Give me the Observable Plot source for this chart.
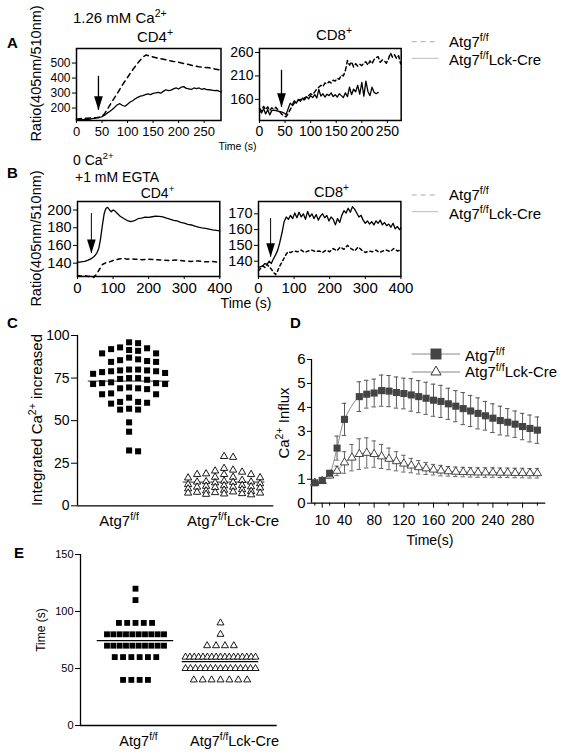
<!DOCTYPE html>
<html><head><meta charset="utf-8">
<script src="https://cdn.jsdelivr.net/npm/d3@7"></script>
<script src="https://cdn.jsdelivr.net/npm/@observablehq/plot@0.6"></script>
<style>
body{margin:0;background:#fff;}
#fig{position:relative;width:567px;height:755px;overflow:hidden;background:#fff;}
</style></head><body><div id="fig"></div>
<script>
// ---------------- DATA ----------------
// Panel A, CD4 (1.26 mM Ca2+)
const aCd4TimeFF = [0,10,20,30,40,45,50,55,60,70,80,90,100,110,120,130,136,140,150,160,170,180,190,200,210,220,230,240,250,260,270,280,284];
const aCd4RatioFF = [126,130,132,134,137,139,146,162,190,245,298,355,405,455,500,540,553,550,541,532,525,518,511,505,497,490,481,475,471,468,461,454,447];
const aCd4TimeCre = [0,5,10,15,20,25,30,35,40,45,50,55,60,65,70,75,80,85,90,95,100,105,110,115,120,125,130,135,140,145,150,155,160,165,170,175,180,185,190,195,200,205,210,215,220,225,230,235,240,245,250,255,260,265,270,275,280,284];
const aCd4RatioCre = [122,125,121,124,127,125,129,131,134,137,143,152,166,177,191,206,222,229,217,212,226,240,249,262,271,279,283,289,294,290,298,301,305,299,311,322,316,320,328,334,327,339,343,331,328,324,334,330,334,325,329,323,322,319,316,318,311,308];
const aCd4Arrow = {t: 43, top: 412, tip: 185};
// Panel A, CD8
const aCd8TimeFF = [0,4,8,12,16,20,24,28,32,36,40,44,48,52,56,60,64,68,72,76,80,84,88,92,96,100,104,108,112,116,120,124,128,132,136,140,144,148,152,156,160,164,168,172,176,180,184,188,192,196,200,204,208,212,216,220,224,228,232,236,240,244,248,252,256,260,264,268,272,276];
const aCd8RatioFF = [141,135,145,138,144,136,142,139,143,137,133,128,125,123,130,138,146,152,155,158,160,157,163,165,168,172,170,176,182,186,190,187,195,193,198,195,201,199,205,203,212,210,222,243,233,240,229,236,231,235,232,238,240,233,242,236,245,249,251,239,244,242,237,246,259,250,255,247,253,236];
const aCd8TimeCre = [0,4,8,12,16,20,24,28,32,36,40,44,48,52,56,60,64,68,72,76,80,84,88,92,96,100,104,108,112,116,120,124,128,132,136,140,144,148,152,156,160,164,168,172,176,180,184,188,192,196,200,204,208,212,216,220,224,228,232];
const aCd8RatioCre = [137,131,140,129,138,127,136,137,136,135,134,133,131,128,140,152,148,157,152,160,156,163,159,166,161,168,164,170,163,181,167,172,165,171,168,174,166,170,165,172,168,164,174,166,186,170,182,176,190,171,196,167,199,177,168,186,175,172,175];
const aCd8Arrow = {t: 43, top: 222, tip: 143};
// Panel B, CD4 (0 Ca2+ +1 mM EGTA)
const bCd4TimeFF = [0,10,20,30,40,45,50,55,60,65,70,80,90,100,110,120,130,140,150,160,180,200,220,240,260,280,300,320,340,360,380,400];
const bCd4RatioFF = [126,125.5,126,125,125.5,124,126,128.5,132,135,138.5,140.5,141.5,143,144,145,145.5,144.5,145,144.5,144,144.5,144,143.5,143,143.5,142.5,142,142.5,141.5,142,141];
const bCd4TimeCre = [0,10,20,30,40,45,50,55,60,65,70,75,80,85,90,95,100,105,110,115,120,130,140,150,160,170,180,190,200,210,220,230,240,250,260,270,280,290,300,310,320,330,340,350,360,370,380,390,400];
const bCd4RatioCre = [141,141.5,142,143.5,145.5,147,149,152,157,168,183,196,202,203,200,198,200,199,197,195,193,190.4,188.1,186.8,187.9,190.2,190.8,191.9,191.6,192.4,193.1,192.8,192.3,190.9,189.6,188.4,187.7,186.1,185.2,183.8,183.1,181.9,180.8,179.9,179.2,178.4,177.6,177.1,176.5];
const bCd4Arrow = {t: 39, top: 196, tip: 151};
// Panel B, CD8
const bCd8TimeFF = [0,6,12,18,24,30,36,42,48,54,60,66,72,78,84,90,100,110,120,130,140,150,160,170,180,190,200,210,220,230,240,250,260,270,280,290,300,310,320,330,340,350,360,370,380,390,400];
const bCd8RatioFF = [134,135.5,137,136,138,136.5,135,133,131.5,134,137,139.5,142,144.5,146,145.5,146.5,146,147,145.5,146.5,147,146,146.5,145.5,147,146,148,146.5,149,147.5,150,148,146.5,149,147,145.5,146.5,146,147,145.5,146.5,147,146,148,146.5,147];
const bCd8TimeCre = [0,6,12,18,24,30,36,42,48,54,60,66,72,78,84,90,96,102,108,114,120,126,132,138,144,150,156,162,168,174,180,186,192,198,204,210,216,222,228,234,240,246,252,258,264,270,276,282,288,294,300,306,312,318,324,330,336,342,348,354,360,366,372,378,384,390,396,400];
const bCd8RatioCre = [136,136.5,137,138.5,138,140,138.5,141.5,144,147,152,158,165,168,166.5,169,167,170.5,167.5,171,168,170,166.5,171.5,168,170,167,169.5,166,168.5,170,167.5,169,165.5,168,166.5,163,167,164.5,169,172,170.5,173.5,171,174.5,173,170.5,168,169,166,164,165.5,163.5,165,163,165.5,164,166,163,164.5,162.5,163.5,161.5,164,160.5,162,160,161];
const bCd8Arrow = {t: 34, top: 167, tip: 142.5};

// Panel C: integrated Ca2+ increase per cell
const cGroups = ["ff", "cre"];
const cValuesFF = [96,95.5,93,92.5,92,91.5,91,89.5,89.5,87,86,85.5,85,84.5,84.5,80,80,79.5,79.5,79,79,78.5,78,77.5,75,75,74.5,74,72.5,72,72,71.5,71.5,69.5,69,69,68.5,66,65.5,65.5,63.5,61,61,60.5,60,57,56.5,56.5,49,43.5,32.5,32];
const cValuesCre = [29,28.5,22,21,20.5,19.8,18.8,18.4,18.4,18.4,16.8,16.8,16.5,16.4,15,14.5,14.2,14,14,13.8,13.5,13,12.5,12,11.8,11.5,11.2,11,11,10.8,10.5,10,9.5,9.2,8.8,8.5,8.2,8,7.8,7.5,7.5,7.2,7,6.8,6.5];
const cMeans = [73.2, 13.9];
const cTicks = [0, 25, 50, 75, 100];

// Panel D: Ca2+ influx over time (mean ± SEM)
const dTimeFF = [0,10,20,30,40,60,70,80,90,100,110,120,130,140,150,160,170,180,190,200,210,220,230,240,250,260,270,280,290,300];
const dMeanFF = [0.85,0.95,1.25,2.3,3.5,4.45,4.55,4.6,4.7,4.68,4.62,4.58,4.52,4.45,4.38,4.3,4.25,4.15,4.05,3.95,3.85,3.75,3.65,3.55,3.45,3.38,3.3,3.2,3.12,3.05];
const dSemFF = [0.06,0.06,0.1,0.5,0.67,0.62,0.58,0.58,0.65,0.65,0.65,0.64,0.68,0.67,0.67,0.67,0.67,0.65,0.65,0.67,0.65,0.65,0.6,0.6,0.6,0.57,0.55,0.55,0.56,0.55];
const dTimeCre = [0,10,20,30,40,50,60,70,80,90,100,110,120,130,140,150,160,170,180,190,200,210,220,230,240,250,260,270,280,290,300];
const dMeanCre = [0.85,0.92,1.15,1.35,1.7,1.9,2.05,2.1,2.05,1.95,1.85,1.75,1.65,1.57,1.5,1.45,1.4,1.36,1.33,1.31,1.3,1.29,1.28,1.28,1.28,1.27,1.27,1.26,1.26,1.25,1.25];
const dSemCre = [0.06,0.06,0.1,0.2,0.45,0.55,0.64,0.63,0.55,0.5,0.45,0.4,0.35,0.3,0.28,0.25,0.22,0.22,0.2,0.2,0.2,0.2,0.2,0.2,0.2,0.2,0.2,0.2,0.2,0.2,0.2];
const dTickLabels = [10,40,80,120,160,200,240,280];
const dMinorTicks = [0,20,60,100,140,180,220,260,300];

// Panel E: time to peak
const eValuesFF = [120,110,90,90,90,90,90,80,80,80,80,80,80,80,80,80,80,70,70,70,70,70,70,70,70,70,70,60,60,60,60,60,60,40,40,40,40];
const eValuesCre = [90,80,70,70,70,70,60,60,60,60,60,60,60,60,60,60,60,60,60,60,60,60,60,50,50,50,50,50,50,50,50,50,50,50,50,50,50,50,40,40,40,40,40,40,40];
const eMeans = [74.5, 56];
const eTicks = [0, 50, 100, 150];

const groupLabels = {ff: "Atg7^{f/f}", cre: "Atg7^{f/f}Lck-Cre"};

// ---------------- HELPERS ----------------
const NS = "http://www.w3.org/2000/svg";
const FONT = '"Liberation Sans", Arial, Helvetica, sans-serif';
const fig = document.getElementById("fig");
const baseStyle = {fontFamily: FONT, background: "none", color: "black", overflow: "visible"};

function place(svg, left, top) {
  svg.style.position = "absolute";
  svg.style.left = left + "px";
  svg.style.top = top + "px";
  svg.style.maxWidth = "none";
  fig.appendChild(svg);
}
function setRich(textEl, str, fs) {
  textEl.textContent = "";
  const re = /\^\{([^}]*)\}/g;
  let last = 0, m; const parts = [];
  while ((m = re.exec(str))) {
    if (m.index > last) parts.push([str.slice(last, m.index), false]);
    parts.push([m[1], true]);
    last = re.lastIndex;
  }
  if (last < str.length) parts.push([str.slice(last), false]);
  let cur = 0;
  for (const [s, sup] of parts) {
    const ts = document.createElementNS(NS, "tspan");
    ts.textContent = s;
    const target = sup ? -0.4 * fs : 0;
    if (target !== cur) { ts.setAttribute("dy", (target - cur).toFixed(2)); cur = target; }
    if (sup) ts.setAttribute("font-size", (0.7 * fs).toFixed(2));
    textEl.appendChild(ts);
  }
}
function richTicks(svg, fs, shifts) {
  svg.querySelectorAll("text").forEach(t => {
    const k = t.textContent;
    if (groupLabels[k]) {
      setRich(t, groupLabels[k], fs);
      if (shifts && shifts[k]) t.setAttribute("dx", shifts[k]);
    }
  });
}
const arrowHead = {
  draw(ctx, size) {
    const r = Math.sqrt(size / Math.PI);
    ctx.moveTo(0, 0);
    ctx.lineTo(-0.62 * r, -2 * r);
    ctx.lineTo(0.62 * r, -2 * r);
    ctx.closePath();
  }
};
const zip = (t, v) => t.map((x, i) => ({t: x, v: v[i]}));

function tracePanel(o) {
  const ml = 40, mr = 10, mt = 10, mb = 28;
  const svg = Plot.plot({
    width: ml + o.frameW + mr, height: mt + o.frameH + mb,
    marginLeft: ml, marginRight: mr, marginTop: mt, marginBottom: mb,
    x: {domain: o.xDomain}, y: {domain: o.yDomain},
    style: baseStyle,
    marks: [
      Plot.axisY({ticks: o.yTicks, tickSize: 4, tickPadding: 2, fontSize: o.yFont, label: null}),
      Plot.axisX({ticks: o.xTicks, tickSize: 3, tickPadding: 3, fontSize: o.xFont, label: null}),
      Plot.line(zip(o.ffT, o.ffV), {x: "t", y: "v", stroke: "black", strokeWidth: 1.5, strokeDasharray: o.dash}),
      Plot.line(zip(o.creT, o.creV), {x: "t", y: "v", stroke: "black", strokeWidth: 1.3}),
      Plot.ruleX([o.arrow], {x: "t", y1: "top", y2: "tip", stroke: "black", strokeWidth: o.arrowW}),
      Plot.dot([o.arrow], {x: "t", y: "tip", symbol: arrowHead, r: o.arrowR, fill: "black", stroke: "none"}),
      Plot.frame({stroke: "black", strokeWidth: 1.5})
    ]
  });
  place(svg, o.left - ml, o.top - mt);
}

// ---------------- PANELS A & B ----------------
tracePanel({left: 76, top: 48, frameW: 144.5, frameH: 72, xDomain: [0, 283], yDomain: [117, 597],
  xTicks: [0,50,100,150,200,250], yTicks: [200,300,400,500], xFont: 13, yFont: 12,
  ffT: aCd4TimeFF, ffV: aCd4RatioFF, creT: aCd4TimeCre, creV: aCd4RatioCre, dash: "5,4",
  arrow: aCd4Arrow, arrowW: 1.3, arrowR: 7});
tracePanel({left: 259, top: 48, frameW: 141.7, frameH: 72, xDomain: [0, 277], yDomain: [115, 268.5],
  xTicks: [0,50,100,150,200,250], yTicks: [160,210,260], xFont: 14, yFont: 14,
  ffT: aCd8TimeFF, ffV: aCd8RatioFF, creT: aCd8TimeCre, creV: aCd8RatioCre, dash: "4,3",
  arrow: aCd8Arrow, arrowW: 1.3, arrowR: 7});
tracePanel({left: 77, top: 201, frameW: 142.3, frameH: 75, xDomain: [0, 400], yDomain: [125, 209.6],
  xTicks: [0,100,200,300,400], yTicks: [140,160,180,200], xFont: 15, yFont: 14.5,
  ffT: bCd4TimeFF, ffV: bCd4RatioFF, creT: bCd4TimeCre, creV: bCd4RatioCre, dash: "4,4",
  arrow: bCd4Arrow, arrowW: 1, arrowR: 7});
tracePanel({left: 258.3, top: 201, frameW: 142.4, frameH: 75, xDomain: [0, 400], yDomain: [130.3, 177.8],
  xTicks: [0,100,200,300,400], yTicks: [140,150,160,170], xFont: 15, yFont: 14.5,
  ffT: bCd8TimeFF, ffV: bCd8RatioFF, creT: bCd8TimeCre, creV: bCd8RatioCre, dash: "3,3",
  arrow: bCd8Arrow, arrowW: 1, arrowR: 7});

// ---------------- PANEL C ----------------
function gridSwarm(values, pxPerUnit, minDist, maxSlot) {
  const order = values.map((v, i) => i).sort((a, b) => values[b] - values[a]);
  const cand = [0]; for (let k = 1; k <= maxSlot; k++) cand.push(k, -k);
  const placed = []; const slots = new Array(values.length);
  for (const i of order) {
    const v = values[i];
    let best = null, bestD = -1;
    for (const k of cand) {
      const ds = placed.filter(p => p.k === k).map(p => Math.abs(p.v - v) * pxPerUnit);
      const d = ds.length ? Math.min(...ds) : Infinity;
      if (d >= minDist) { best = k; break; }
      if (d > bestD) { bestD = d; best = k; }
    }
    placed.push({k: best, v}); slots[i] = best;
  }
  return slots;
}
{
  const ml = 40, mr = 10, mt = 10, mb = 30;
  const W = 196.3, H = 170.3;
  const pxPerUnit = 95;
  const xDomain = [-(128.3 - 76.7) / pxPerUnit, 1 + (273 - 223.3) / pxPerUnit];
  const step = 9 / pxPerUnit;
  const yPx = H / 100;
  const sFF = gridSwarm(cValuesFF, yPx, 7, 4);
  const sCre = gridSwarm(cValuesCre, yPx, 6, 4);
  const ptsFF = cValuesFF.map((v, i) => ({x: 0 + sFF[i] * step, y: v}));
  const ptsCre = cValuesCre.map((v, i) => ({x: 1 + sCre[i] * step, y: v}));
  const means = cMeans.map((m, i) => ({g: i, m}));
  const svg = Plot.plot({
    width: ml + W + mr, height: mt + H + mb, marginLeft: ml, marginRight: mr, marginTop: mt, marginBottom: mb,
    x: {domain: xDomain}, y: {domain: [0, 100]}, style: baseStyle,
    marks: [
      Plot.ruleX([xDomain[0]], {stroke: "black", strokeWidth: 1.3}),
      Plot.ruleY([0], {stroke: "black", strokeWidth: 1.3}),
      Plot.axisY({ticks: cTicks, tickSize: 6, tickPadding: 2, fontSize: 14, label: null}),
      Plot.axisX({ticks: [0, 1], tickFormat: i => cGroups[i], tickSize: 0, tickPadding: 10, fontSize: 15, label: null}),
      Plot.ruleY(means, {y: "m", x1: d => d.g - 0.43, x2: d => d.g + 0.43, stroke: "#555", strokeWidth: 1.3}),
      Plot.dot(ptsFF, {x: "x", y: "y", symbol: "square", r: 3.4, fill: "black", stroke: "none"}),
      Plot.dot(ptsCre, {x: "x", y: "y", symbol: "triangle", r: 2.7, fill: "white", stroke: "black", strokeWidth: 0.9})
    ]
  });
  richTicks(svg, 15, {ff: -10, cre: 9});
  place(svg, 76.7 - ml, 335 - mt);
}

// ---------------- PANEL D ----------------
{
  const ml = 30, mr = 15, mt = 10, mb = 32;
  const W = 234.3, H = 143.7;
  const xDomain = [-4.45, 311.3];
  const ff = dTimeFF.map((t, i) => ({t, m: dMeanFF[i], s: dSemFF[i]}));
  const cre = dTimeCre.map((t, i) => ({t, m: dMeanCre[i], s: dSemCre[i]}));
  const cap = 3;
  const errMarks = (data, color) => [
    Plot.ruleX(data, {x: "t", y1: d => d.m - d.s, y2: d => d.m + d.s, stroke: color, strokeWidth: 1}),
    Plot.ruleY(data, {y: d => d.m + d.s, x1: d => d.t - cap, x2: d => d.t + cap, stroke: color, strokeWidth: 1}),
    Plot.ruleY(data, {y: d => d.m - d.s, x1: d => d.t - cap, x2: d => d.t + cap, stroke: color, strokeWidth: 1})
  ];
  const svg = Plot.plot({
    width: ml + W + mr, height: mt + H + mb, marginLeft: ml, marginRight: mr, marginTop: mt, marginBottom: mb,
    x: {domain: xDomain}, y: {domain: [0, 6]}, style: baseStyle,
    marks: [
      Plot.ruleX([xDomain[0]], {stroke: "black", strokeWidth: 1.3}),
      Plot.ruleY([0], {stroke: "black", strokeWidth: 1.3}),
      Plot.axisY({ticks: [0,1,2,3,4,5,6], tickFormat: d3.format("d"), tickSize: 4, tickPadding: 2, fontSize: 15, label: null}),
      Plot.axisX({ticks: dTickLabels, tickFormat: d3.format("d"), tickSize: 5, tickPadding: 7, fontSize: 14, label: null}),
      Plot.axisX({ticks: dMinorTicks, tickSize: 3, tickFormat: () => "", label: null}),
      ...errMarks(cre, "#666"),
      Plot.line(cre, {x: "t", y: "m", stroke: "#888", strokeWidth: 1, curve: "catmull-rom"}),
      Plot.dot(cre, {x: "t", y: "m", symbol: "triangle", r: 3.1, fill: "white", stroke: "#333", strokeWidth: 0.9}),
      ...errMarks(ff, "#555"),
      Plot.line(ff, {x: "t", y: "m", stroke: "#888", strokeWidth: 1, curve: "catmull-rom"}),
      Plot.dot(ff, {x: "t", y: "m", symbol: "square", r: 4, fill: "#444", stroke: "none"})
    ]
  });
  place(svg, 310.7 - ml, 359.3 - mt);
}

// ---------------- PANEL E ----------------
function rowLayout(values, stepPx, maxWidthPx) {
  const groups = d3.group(values.map((v, i) => i), i => values[i]);
  const off = new Array(values.length);
  for (const [, idx] of groups) {
    const n = idx.length;
    const s = n > 1 ? Math.min(stepPx, maxWidthPx / (n - 1)) : 0;
    idx.forEach((i, j) => off[i] = (j - (n - 1) / 2) * s);
  }
  return off;
}
{
  const ml = 40, mr = 12, mt = 10, mb = 30;
  const W = 196.7, H = 171;
  const pxPerUnit = 85;
  const xDomain = [-(135 - 80) / pxPerUnit, 1 + (276.7 - 220) / pxPerUnit];
  const oFF = rowLayout(eValuesFF, 8.3, 57);
  const oCre = rowLayout(eValuesCre, 8.9, 70);
  const ptsFF = eValuesFF.map((v, i) => ({x: 0 + oFF[i] / pxPerUnit, y: v}));
  const ptsCre = eValuesCre.map((v, i) => ({x: 1 + oCre[i] / pxPerUnit, y: v}));
  const means = eMeans.map((m, i) => ({g: i, m}));
  const svg = Plot.plot({
    width: ml + W + mr, height: mt + H + mb, marginLeft: ml, marginRight: mr, marginTop: mt, marginBottom: mb,
    x: {domain: xDomain}, y: {domain: [0, 150]}, style: baseStyle,
    marks: [
      Plot.ruleX([xDomain[0]], {stroke: "black", strokeWidth: 1.3}),
      Plot.ruleY([0], {stroke: "black", strokeWidth: 1.3}),
      Plot.axisY({ticks: eTicks, tickSize: 5, tickPadding: 2, fontSize: 11, label: null}),
      Plot.axisX({ticks: [0, 1], tickFormat: i => cGroups[i], tickSize: 0, tickPadding: 10, fontSize: 14.5, label: null}),
      Plot.ruleY(means, {y: "m", x1: d => d.g - 0.45, x2: d => d.g + 0.45, stroke: "black", strokeWidth: 1.2}),
      Plot.dot(ptsFF, {x: "x", y: "y", symbol: "square", r: 3.3, fill: "black", stroke: "none"}),
      Plot.dot(ptsCre, {x: "x", y: "y", symbol: "triangle", r: 2.6, fill: "white", stroke: "black", strokeWidth: 0.9})
    ]
  });
  richTicks(svg, 14.5, {ff: 3, cre: 14});
  place(svg, 80 - ml, 554 - mt);
}

// ---------------- OVERLAY TEXT & LEGENDS ----------------
const ov = d3.select(fig).append("svg").attr("width", 567).attr("height", 755)
  .style("position", "absolute").style("left", "0px").style("top", "0px").style("pointer-events", "none")
  .attr("font-family", FONT);
function label(x, y, str, {fs = 15, anchor = "start", weight = null, rotate = false} = {}) {
  const t = ov.append("text").attr("font-size", fs).attr("text-anchor", anchor).attr("fill", "black");
  if (weight) t.attr("font-weight", weight);
  if (rotate) t.attr("transform", `translate(${x},${y}) rotate(-90)`); else t.attr("x", x).attr("y", y);
  setRich(t.node(), str, fs);
}
// panel letters
label(7, 48, "A", {fs: 15, weight: "bold"});
label(7, 178, "B", {fs: 15, weight: "bold"});
label(7, 328, "C", {fs: 15, weight: "bold"});
label(290, 328, "D", {fs: 15, weight: "bold"});
label(14, 558, "E", {fs: 15, weight: "bold"});
// titles
label(73, 23, "1.26 mM Ca^{2+}", {fs: 15});
label(155, 41.5, "CD4^{+}", {fs: 15, anchor: "middle"});
label(334, 39.5, "CD8^{+}", {fs: 15, anchor: "middle"});
label(73, 165, "0 Ca^{2+}", {fs: 14});
label(75, 182, "+1 mM EGTA", {fs: 14});
label(157.5, 198, "CD4^{+}", {fs: 14, anchor: "middle"});
label(331.5, 196.5, "CD8^{+}", {fs: 14.5, anchor: "middle"});
// axis titles
label(41, 73.5, "Ratio(405nm/510nm)", {fs: 14.5, anchor: "middle", rotate: true});
label(41, 238.5, "Ratio(405nm/510nm)", {fs: 14.5, anchor: "middle", rotate: true});
label(237.5, 149.5, "Time (s)", {fs: 10.5, anchor: "middle"});
label(246, 308, "Time (s)", {fs: 14, anchor: "middle"});
label(42, 420, "Integrated Ca^{2+} increased", {fs: 15, anchor: "middle", rotate: true});
label(289, 423, "Ca^{2+} Influx", {fs: 15, anchor: "middle", rotate: true});
label(430, 545, "Time(s)", {fs: 14, anchor: "middle"});
label(45, 630, "Time (s)", {fs: 12, anchor: "middle", rotate: true});
// legends for A and B
function lineLegend(y1, y2, ty1, ty2) {
  ov.append("line").attr("x1", 411.7).attr("x2", 438.3).attr("y1", y1).attr("y2", y1)
    .attr("stroke", "#aaa").attr("stroke-width", 1).attr("stroke-dasharray", "5,4");
  ov.append("line").attr("x1", 411.7).attr("x2", 438.3).attr("y1", y2).attr("y2", y2)
    .attr("stroke", "#bbb").attr("stroke-width", 1);
  label(449, ty1, groupLabels.ff, {fs: 15});
  label(449, ty2, groupLabels.cre, {fs: 15});
}
lineLegend(41.7, 58.3, 46.5, 64.5);
lineLegend(195, 211.7, 200, 219.3);
// legend for D
ov.append("line").attr("x1", 411.7).attr("x2", 460).attr("y1", 354).attr("y2", 354).attr("stroke", "#888");
ov.append("path").attr("d", d3.symbol(d3.symbolSquare, 120)()).attr("transform", "translate(436,354)").attr("fill", "#444");
ov.append("line").attr("x1", 411.7).attr("x2", 460).attr("y1", 372).attr("y2", 372).attr("stroke", "#888");
ov.append("path").attr("d", d3.symbol(d3.symbolTriangle, 45)()).attr("transform", "translate(436,372)").attr("fill", "white").attr("stroke", "#333");
label(465, 360.5, groupLabels.ff, {fs: 15});
label(465, 377, groupLabels.cre, {fs: 15});
</script></body></html>
